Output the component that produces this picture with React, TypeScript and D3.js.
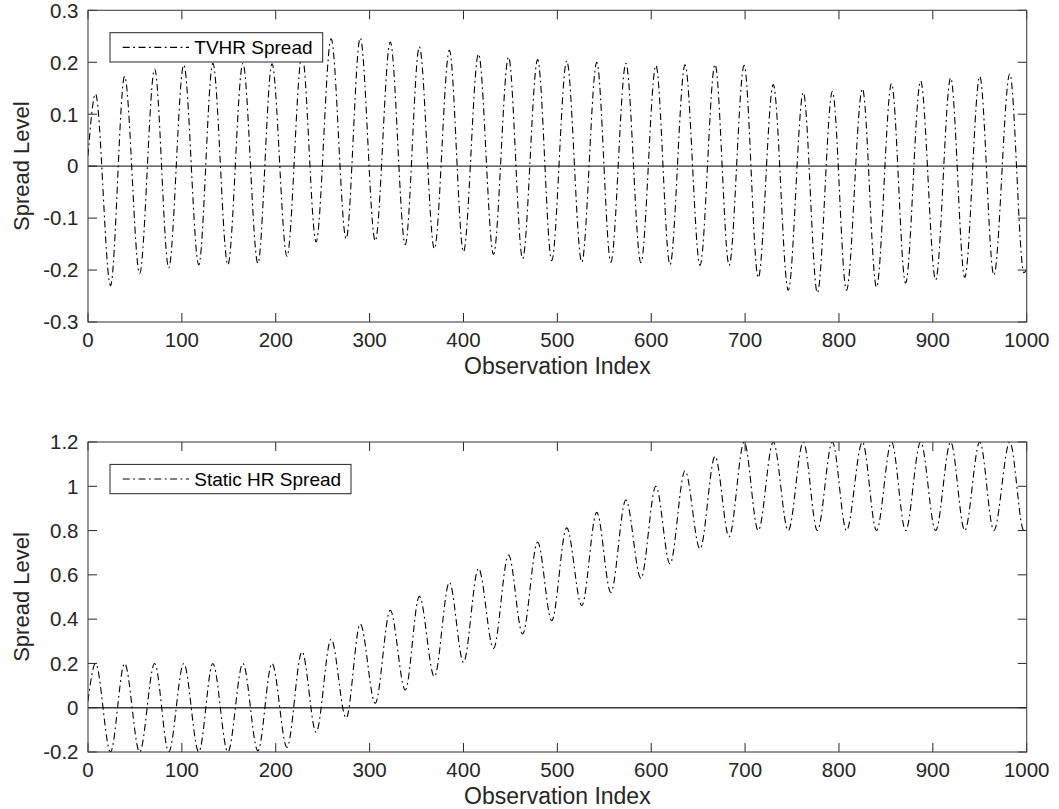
import React from 'react';
import * as d3 from 'd3';

// ---------- data ----------
const xTicks = [0, 100, 200, 300, 400, 500, 600, 700, 800, 900, 1000];
const topYTicks = [-0.3, -0.2, -0.1, 0, 0.1, 0.2, 0.3];
const bottomYTicks = [-0.2, 0, 0.2, 0.4, 0.6, 0.8, 1, 1.2];

// observation index of each local maximum / minimum
const peakIdx = [8, 39, 71, 102, 133, 165, 196, 228, 259, 290, 322, 353, 385, 416, 448, 479, 510, 542, 573, 605, 636, 668, 699, 730, 762, 793, 825, 856, 887, 919, 950, 982];
const troughIdx = [24, 55, 86, 118, 149, 181, 212, 243, 275, 306, 338, 369, 400, 432, 463, 494, 526, 557, 589, 620, 652, 683, 714, 746, 777, 808, 840, 871, 903, 934, 965, 997];

// TVHR spread: values at peaks and troughs
const tvhrPeaks = [0.139, 0.173, 0.187, 0.195, 0.198, 0.198, 0.197, 0.215, 0.245, 0.247, 0.239, 0.23, 0.223, 0.216, 0.21, 0.205, 0.203, 0.2, 0.198, 0.194, 0.195, 0.196, 0.194, 0.157, 0.142, 0.144, 0.149, 0.159, 0.164, 0.17, 0.173, 0.178];
const tvhrTroughs = [-0.23, -0.207, -0.196, -0.19, -0.19, -0.187, -0.174, -0.146, -0.14, -0.144, -0.151, -0.159, -0.165, -0.17, -0.178, -0.182, -0.185, -0.185, -0.186, -0.19, -0.191, -0.191, -0.215, -0.239, -0.244, -0.239, -0.233, -0.225, -0.219, -0.214, -0.21, -0.205];
const tvhrEnds = [0.02, -0.2];

// Static HR spread: values at peaks and troughs
const staticPeaks = [0.2, 0.2, 0.2, 0.2, 0.2, 0.2, 0.2, 0.253, 0.31, 0.378, 0.44, 0.503, 0.566, 0.629, 0.69, 0.747, 0.812, 0.882, 0.938, 1.0, 1.07, 1.135, 1.2, 1.2, 1.2, 1.2, 1.2, 1.2, 1.2, 1.2, 1.2, 1.2];
const staticTroughs = [-0.2, -0.2, -0.2, -0.2, -0.2, -0.195, -0.179, -0.111, -0.047, 0.02, 0.08, 0.14, 0.205, 0.268, 0.333, 0.393, 0.461, 0.521, 0.584, 0.649, 0.717, 0.772, 0.8, 0.8, 0.8, 0.8, 0.8, 0.8, 0.8, 0.8, 0.8, 0.8];
const staticEnds = [0.03, 0.8];

// ---------- helpers ----------
function buildSeries(peaks: number[], troughs: number[], ends: number[]): [number, number][] {
  const pts: [number, number][] = [[0, ends[0]]];
  peakIdx.forEach((p, i) => {
    pts.push([p, peaks[i]]);
    pts.push([troughIdx[i], troughs[i]]);
  });
  pts.push([1000, ends[1]]);
  return pts;
}

const FONT = "'Liberation Sans', Arial, Helvetica, sans-serif";
const AX = '#262626';
const DASH = '7,3.5,1.8,3.5';

const fmt = (d: number) => (d === 0 ? '0' : String(+d.toFixed(1)));

interface PanelProps {
  id: string;
  top: number;
  bottom: number;
  yDomain: [number, number];
  yTicks: number[];
  data: [number, number][];
  label: string;
  legendW: number;
}

const LEFT = 88;
const RIGHT = 1026.7;

function Panel({ id, top, bottom, yDomain, yTicks, data, label, legendW }: PanelProps) {
  const x = d3.scaleLinear().domain([0, 1000]).range([LEFT, RIGHT]);
  const y = d3.scaleLinear().domain(yDomain).range([bottom, top]);
  const line = d3
    .line<[number, number]>()
    .x((d) => x(d[0]))
    .y((d) => y(d[1]))
    .curve(d3.curveMonotoneX);
  const tickLen = 9;
  const midY = (top + bottom) / 2;
  const lgX = 110;
  const lgY = top + 22.4;
  const lgH = 29.3;
  return (
    <g>
      <defs>
        <clipPath id={`clip-${id}`}>
          <rect x={LEFT} y={top} width={RIGHT - LEFT} height={bottom - top} />
        </clipPath>
      </defs>
      {/* zero line */}
      <line x1={x(0)} x2={x(1000)} y1={y(0)} y2={y(0)} stroke="#3a3a3a" strokeWidth={1.4} />
      {/* series */}
      <path
        d={line(data) || ''}
        fill="none"
        stroke="#000"
        strokeWidth={1.1}
        strokeDasharray={DASH}
        clipPath={`url(#clip-${id})`}
      />
      {/* ticks */}
      {xTicks.map((t) => (
        <g key={`xt${t}`}>
          <line x1={x(t)} x2={x(t)} y1={bottom} y2={bottom - tickLen} stroke={AX} strokeWidth={1} />
          <line x1={x(t)} x2={x(t)} y1={top} y2={top + tickLen} stroke={AX} strokeWidth={1} />
          <text x={x(t)} y={bottom + 25} textAnchor="middle" fontSize={20.5} fill={AX} fontFamily={FONT}>
            {fmt(t)}
          </text>
        </g>
      ))}
      {yTicks.map((t) => (
        <g key={`yt${t}`}>
          <line x1={LEFT} x2={LEFT + tickLen} y1={y(t)} y2={y(t)} stroke={AX} strokeWidth={1} />
          <line x1={RIGHT} x2={RIGHT - tickLen} y1={y(t)} y2={y(t)} stroke={AX} strokeWidth={1} />
          <text x={78.5} y={y(t) + 7.3} textAnchor="end" fontSize={20.5} fill={AX} fontFamily={FONT}>
            {fmt(t)}
          </text>
        </g>
      ))}
      {/* box */}
      <rect x={LEFT} y={top} width={RIGHT - LEFT} height={bottom - top} fill="none" stroke="#444" strokeWidth={1.1} />
      {/* axis labels */}
      <text x={(LEFT + RIGHT) / 2} y={bottom + 52} textAnchor="middle" fontSize={23} fill={AX} fontFamily={FONT}>
        Observation Index
      </text>
      <text
        transform={`translate(29,${midY}) rotate(-90)`}
        textAnchor="middle"
        fontSize={22}
        fill={AX}
        fontFamily={FONT}
      >
        Spread Level
      </text>
      {/* legend */}
      <rect x={lgX} y={lgY} width={legendW} height={lgH} fill="#fff" stroke={AX} strokeWidth={1} />
      <line
        x1={lgX + 12.7}
        x2={lgX + 79}
        y1={lgY + lgH / 2}
        y2={lgY + lgH / 2}
        stroke="#000"
        strokeWidth={1.1}
        strokeDasharray={DASH}
      />
      <text x={lgX + 84.3} y={lgY + lgH / 2 + 6.7} fontSize={19} fill="#000" fontFamily={FONT}>
        {label}
      </text>
    </g>
  );
}

export default function App() {
  const tvhr = buildSeries(tvhrPeaks, tvhrTroughs, tvhrEnds);
  const stat = buildSeries(staticPeaks, staticTroughs, staticEnds);
  return (
    <svg
      width={1059}
      height={809}
      style={{ position: 'absolute', left: 0, top: 0, background: '#fff' }}
      xmlns="http://www.w3.org/2000/svg"
    >
      <rect width={1059} height={809} fill="#fff" />
      <Panel
        id="top"
        top={10.3}
        bottom={322}
        yDomain={[-0.3, 0.3]}
        yTicks={topYTicks}
        data={tvhr}
        label="TVHR Spread"
        legendW={212.7}
      />
      <Panel
        id="bottom"
        top={442}
        bottom={752}
        yDomain={[-0.2, 1.2]}
        yTicks={bottomYTicks}
        data={stat}
        label="Static HR Spread"
        legendW={241}
      />
    </svg>
  );
}
